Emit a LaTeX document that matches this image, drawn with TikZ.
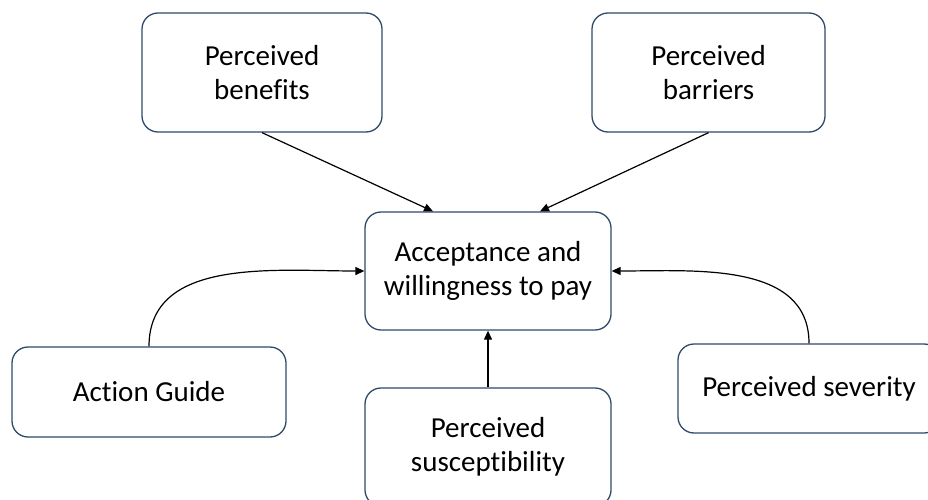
\documentclass[tikz,border=0pt]{standalone}
\usepackage{fontspec}
\setmainfont[Ligatures={NoCommon}]{Carlito}
\usetikzlibrary{arrows.meta}
\definecolor{boxline}{HTML}{2F4A6A}
\begin{document}
\begin{tikzpicture}[x=1pt,y=-1pt,
  cbox/.style={draw=boxline, line width=1.3pt, rounded corners=16pt, fill=white,
    align=center, inner sep=0pt,
    font=\fontsize{29}{34.5}\selectfont, text=black},
  conn/.style={draw=black, line width=1.2pt, -{Triangle[length=9pt,width=8pt]}}]
\useasboundingbox (0,0) rectangle (928,500);
\clip (0,0) rectangle (928,500);
\node[cbox, minimum width=240pt, minimum height=119pt] (ben) at (262,72.5) {Perceived\\benefits};
\node[cbox, minimum width=233pt, minimum height=119pt] (bar) at (708.5,72.5) {Perceived\\barriers};
\node[cbox, minimum width=246pt, minimum height=118pt] (acc) at (488,271) {Acceptance and\\willingness to pay};
\node[cbox, minimum width=274pt, minimum height=90pt] (ag) at (149,392) {Action Guide};
\node[cbox, minimum width=262pt, minimum height=89pt] (sev) at (809,388.5) {Perceived severity};
\node[cbox, minimum width=246pt, minimum height=118pt] (sus) at (488,447) {Perceived\\susceptibility};
\draw[conn] (ben.south) -- ([xshift=-55pt]acc.north);
\draw[conn] (bar.south) -- ([xshift=52pt]acc.north);
\draw[conn] (ag.north) to[out=90,in=180] (acc.west);
\draw[conn] (sev.north) to[out=90,in=0] (acc.east);
\draw[conn] (sus.north) -- (acc.south);
\end{tikzpicture}
\end{document}
